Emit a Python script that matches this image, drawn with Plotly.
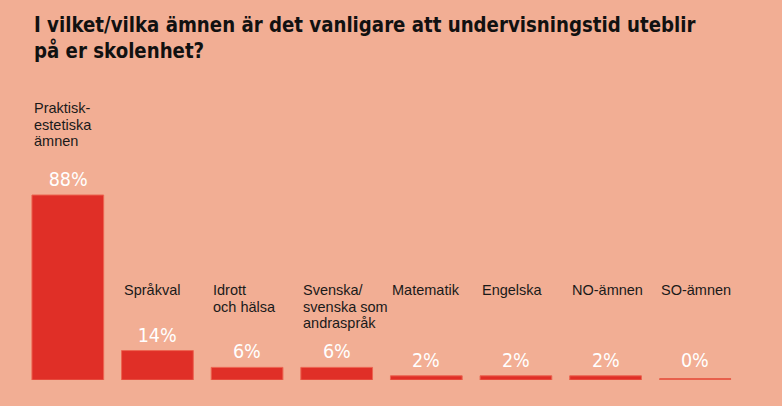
import plotly.graph_objects as go

categories = ["Praktisk-<br>estetiska<br>ämnen", "Språkval", "Idrott<br>och hälsa",
              "Svenska/<br>svenska som<br>andraspråk", "Matematik", "Engelska",
              "NO-ämnen", "SO-ämnen"]
values = [88, 14, 6, 6, 2, 2, 2, 0]
value_labels = ["88%", "14%", "6%", "6%", "2%", "2%", "2%", "0%"]

title_lines = ["I vilket/vilka ämnen är det vanligare att undervisningstid uteblir",
               "på er skolenhet?"]

BG = "#f2ae94"
BAR = "#e02f27"
EDGE = "#ec6450"
SANS = "Liberation Sans"
BOLD = "DejaVu Sans"

x_idx = list(range(len(categories)))
LINE = 16.5

fig = go.Figure()
fig.add_trace(go.Bar(
    x=x_idx, y=values, width=0.8,
    marker=dict(color=BAR, line=dict(color=EDGE, width=1)),
    hoverinfo="skip",
))

annotations = []
shapes = []
for i, (cat, v, lab) in enumerate(zip(categories, values, value_labels)):
    annotations.append(dict(
        x=i, y=v, xref="x", yref="y", text=lab, showarrow=False,
        yanchor="bottom", xanchor="center", yshift=2 if v > 0 else 6,
        font=dict(family=BOLD, size=20, color="white"),
    ))
    lines = cat.split("<br>")
    n = len(lines)
    for k, ln in enumerate(lines):
        if v > 40:
            annotations.append(dict(
                x=i - 0.4, y=v, xref="x", yref="y", text=ln, showarrow=False,
                yanchor="bottom", xanchor="left", align="left",
                yshift=44 + (n - 1 - k) * LINE,
                font=dict(family=SANS, size=14.5, color="#1a1a1a"),
            ))
        else:
            annotations.append(dict(
                x=i - 0.4, y=0.357, xref="x", yref="paper", text=ln, showarrow=False,
                yanchor="top", xanchor="left", align="left", yshift=-k * LINE,
                font=dict(family=SANS, size=14.5, color="#1a1a1a"),
            ))
    if v == 0:
        shapes.append(dict(
            type="rect", xref="x", yref="y", x0=i - 0.4, x1=i + 0.4,
            ysizemode="pixel", yanchor=0, y0=0, y1=2,
            fillcolor="#e8604c", line=dict(width=0),
        ))

for k, (ln, yy) in enumerate(zip(title_lines, [1.269, 1.1775])):
    annotations.append(dict(
        x=0.0125, y=yy, xref="paper", yref="paper", text="<b>" + ln + "</b>",
        showarrow=False, xanchor="left", yanchor="middle", align="left",
        font=dict(family=BOLD, size=22, color="#111111"),
    ))

fig.update_layout(
    width=782, height=406,
    paper_bgcolor=BG, plot_bgcolor=BG,
    margin=dict(l=23, r=42, t=100, b=26),
    showlegend=False,
    bargap=0.2,
    xaxis=dict(range=[-0.5, 7.5], showticklabels=False, showgrid=False,
               zeroline=False, showline=False, ticks=""),
    yaxis=dict(range=[0, 133.2], showticklabels=False, showgrid=False,
               zeroline=False, showline=False, ticks=""),
    annotations=annotations,
    shapes=shapes,
)

post = """
document.body.style.margin='0';
var texts = Array.from(document.querySelectorAll('text.annotation-text'));
var t1 = texts.find(function(t){return t.textContent.indexOf('I vilket')===0;});
var s = t1 ? 662 / t1.getBBox().width : 0.88;
texts.forEach(function(t){
  var c = t.textContent;
  var b = t.getBBox();
  if (c.indexOf('I vilket')===0 || c.indexOf('på er')===0) {
    t.setAttribute('transform','translate('+b.x+',0) scale('+s+',1) translate('+(-b.x)+',0)');
  } else if (/%$/.test(c)) {
    var cx = b.x + b.width/2;
    t.setAttribute('transform','translate('+cx+',0) scale(0.88,1) translate('+(-cx)+',0)');
  }
});
"""

fig.write_html("out.html", config={"displayModeBar": False}, post_script=post)
